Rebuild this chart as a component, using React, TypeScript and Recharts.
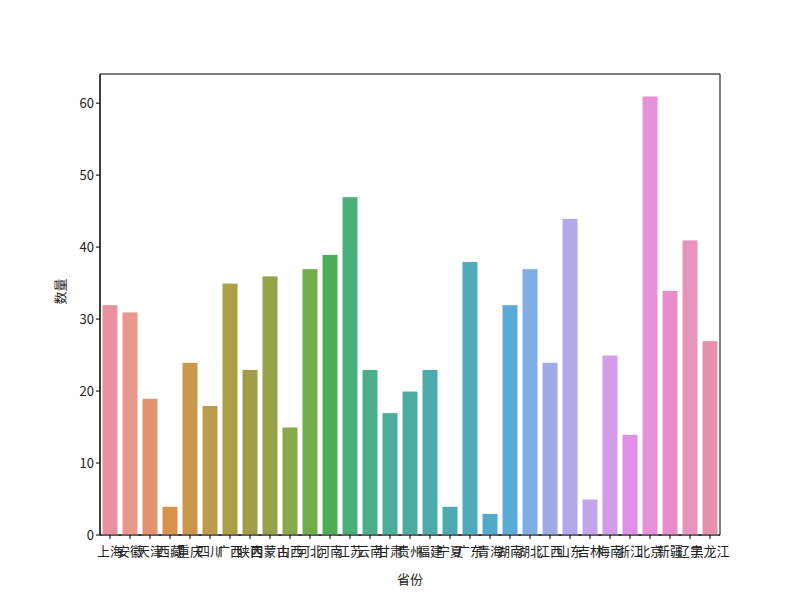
import React from 'react';
import { BarChart, Bar, XAxis, YAxis, Cell, ReferenceArea } from 'recharts';

const provinces = ['上海', '安徽', '天津', '西藏', '重庆', '四川', '广西', '陕西', '内蒙古', '山西', '河北', '河南', '江苏', '云南', '甘肃', '贵州', '福建', '宁夏', '广东', '青海', '湖南', '湖北', '江西', '山东', '吉林', '海南', '浙江', '北京', '新疆', '辽宁', '黑龙江'];
const counts = [32, 31, 19, 4, 24, 18, 35, 23, 36, 15, 37, 39, 47, 23, 17, 20, 23, 4, 38, 3, 32, 37, 24, 44, 5, 25, 14, 61, 34, 41, 27];
const barColors = ['#e8929f', '#e8988c', '#e3926e', '#d9924a', '#c9984b', '#ba9c4b', '#ad9e48', '#a29e48', '#97a34a', '#89aa4c', '#72ad4a', '#4caf58', '#4ab07a', '#4baf8e', '#4bae9a', '#4bada2', '#4bacab', '#4daab3', '#4faabc', '#52aacb', '#5aacd8', '#7eaee5', '#a0aae8', '#b3a9ea', '#c4a4ea', '#d39be8', '#e08ee8', '#e891d9', '#e88ccb', '#e893bd', '#e891ab'];
const yTicks = [0, 10, 20, 30, 40, 50, 60];
const yMax = 64.05;

const data = provinces.map((p, i) => ({ name: p, value: counts[i] }));

const font = "'Noto Sans CJK SC', 'Liberation Sans', sans-serif";

export default function App() {
  return (
    <div style={{ width: 784, height: 584, fontFamily: font }}>
      <BarChart
        width={784}
        height={584}
        data={data}
        margin={{ top: 66, right: 72, bottom: 7, left: 52 }}
        barCategoryGap="20%"
      >
        <XAxis
          dataKey="name"
          interval={0}
          tick={{ fill: '#222', fontSize: 13, fontFamily: font }}
          tickLine={{ stroke: '#000' }}
          tickSize={4}
          tickMargin={8}
          axisLine={{ stroke: '#000' }}
          height={50}
          label={{ value: '省份', position: 'insideBottom', offset: 1, fill: '#222', fontSize: 13, fontFamily: font }}
        />
        <YAxis
          domain={[0, yMax]}
          ticks={yTicks}
          tick={{ fill: '#222', fontSize: 13, fontFamily: font }}
          tickLine={{ stroke: '#000' }}
          tickSize={4}
          axisLine={{ stroke: '#000' }}
          width={40}
          label={{ value: '数量', angle: -90, position: 'insideLeft', offset: 0, fill: '#222', fontSize: 13, fontFamily: font }}
        />
        <Bar dataKey="value" isAnimationActive={false} stroke="#ffffff" strokeWidth={1} barSize={16}>
          {data.map((d, i) => (
            <Cell key={d.name} fill={barColors[i]} />
          ))}
        </Bar>
        <ReferenceArea
          x1={provinces[0]}
          x2={provinces[provinces.length - 1]}
          y1={0}
          y2={yMax}
          fill="none"
          fillOpacity={0}
          stroke="#000"
          strokeWidth={1}
          ifOverflow="visible"
        />
      </BarChart>
    </div>
  );
}
